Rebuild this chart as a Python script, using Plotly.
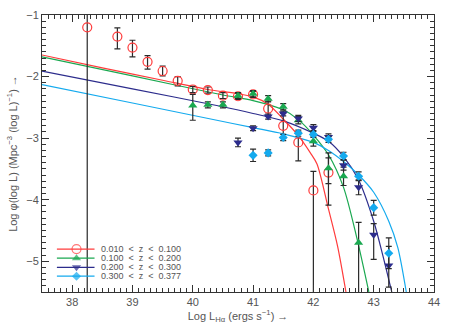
import plotly.graph_objects as go

# ---------------- data ----------------
z1_x = [38.25, 38.75, 39.0, 39.25, 39.5, 39.75, 40.0, 40.25, 40.5, 40.75, 41.0, 41.25, 41.5, 41.75, 42.0, 42.25]
z1_y = [-1.20, -1.35, -1.53, -1.76, -1.91, -2.07, -2.21, -2.22, -2.31, -2.32, -2.29, -2.52, -2.80, -3.07, -3.85, -3.56]
z1_ep = [5.0, 0.14, 0.12, 0.10, 0.08, 0.07, 0.05, 0.05, 0.05, 0.05, 0.05, 0.12, 0.20, 0.17, 0.31, 0.24]
z1_em = [5.0, 0.20, 0.15, 0.12, 0.08, 0.08, 0.05, 0.05, 0.05, 0.05, 0.05, 0.12, 0.20, 0.30, 3.00, 0.53]

z2_x = [40.0, 40.25, 40.5, 40.75, 41.0, 41.25, 41.5, 41.75, 42.0, 42.25, 42.5, 42.75]
z2_y = [-2.47, -2.46, -2.46, -2.31, -2.28, -2.36, -2.49, -2.71, -3.05, -3.49, -3.62, -4.70]
z2_ep = [0.18, 0.05, 0.05, 0.05, 0.05, 0.05, 0.05, 0.06, 0.08, 0.25, 0.15, 0.33]
z2_em = [0.24, 0.05, 0.05, 0.05, 0.05, 0.05, 0.05, 0.06, 0.08, 0.25, 0.15, 3.00]

z3_x = [40.75, 41.0, 41.25, 41.5, 41.75, 42.0, 42.25, 42.5, 42.75, 43.0, 43.25]
z3_y = [-3.07, -2.84, -2.65, -2.60, -2.68, -2.83, -2.98, -3.44, -3.80, -4.57, -5.07]
z3_ep = [0.07, 0.04, 0.04, 0.04, 0.05, 0.05, 0.05, 0.08, 0.12, 0.18, 0.31]
z3_em = [0.07, 0.04, 0.04, 0.04, 0.05, 0.05, 0.05, 0.08, 0.12, 0.40, 0.35]

z4_x = [41.0, 41.25, 41.5, 41.75, 42.0, 42.25, 42.5, 42.75, 43.0, 43.25]
z4_y = [-3.28, -3.24, -2.99, -2.92, -2.94, -3.02, -3.29, -3.62, -4.13, -4.87]
z4_ep = [0.10, 0.05, 0.05, 0.05, 0.05, 0.05, 0.06, 0.07, 0.12, 0.25]
z4_em = [0.10, 0.05, 0.05, 0.05, 0.05, 0.05, 0.06, 0.07, 0.12, 0.25]

# fitted curves
f1_x = [37.5, 38.5, 39.5, 40.25, 40.75, 41.0, 41.25, 41.5, 41.75, 41.95, 42.06, 42.25, 42.4, 42.54]
f1_y = [-1.65, -1.86, -2.06, -2.21, -2.28, -2.33, -2.45, -2.69, -2.96, -3.24, -3.42, -4.15, -4.75, -5.5]
f2_x = [37.5, 39.0, 40.5, 41.0, 41.5, 41.75, 42.0, 42.25, 42.5, 42.72, 42.92]
f2_y = [-1.68, -1.99, -2.30, -2.39, -2.54, -2.70, -2.95, -3.27, -3.80, -4.62, -5.5]
f3_x = [37.5, 39.0, 40.5, 41.0, 41.5, 42.0, 42.25, 42.5, 42.75, 43.0, 43.15, 43.3]
f3_y = [-1.91, -2.20, -2.49, -2.60, -2.72, -2.92, -3.05, -3.30, -3.68, -4.35, -4.90, -5.5]
f4_x = [37.5, 39.0, 40.5, 41.0, 41.5, 42.0, 42.25, 42.5, 42.75, 43.0, 43.25, 43.4, 43.54]
f4_y = [-2.13, -2.43, -2.73, -2.83, -2.93, -3.07, -3.20, -3.38, -3.60, -3.88, -4.35, -4.78, -5.5]

S = "\u00a0\u00a0"
labels = ["0.010" + S + "&lt;" + S + "z" + S + "&lt;" + S + "0.100",
          "0.100" + S + "&lt;" + S + "z" + S + "&lt;" + S + "0.200",
          "0.200" + S + "&lt;" + S + "z" + S + "&lt;" + S + "0.300",
          "0.300" + S + "&lt;" + S + "z" + S + "&lt;" + S + "0.377"]

x_ticks = [38, 39, 40, 41, 42, 43, 44]
y_ticks = [-1, -2, -3, -4, -5]

# ---------------- styles ----------------
colors = ["#ff3b3b", "#1aa850", "#2c2c8c", "#14aaee"]
symbols = ["circle-open", "triangle-up", "triangle-down", "diamond"]
msizes = [9, 8, 8, 7]
EB = "#2a2a2a"
TXT = "#555555"
FONT = "Liberation Sans"

fig = go.Figure()

series = [(z1_x, z1_y, z1_ep, z1_em), (z2_x, z2_y, z2_ep, z2_em),
          (z3_x, z3_y, z3_ep, z3_em), (z4_x, z4_y, z4_ep, z4_em)]
fits = [(f1_x, f1_y), (f2_x, f2_y), (f3_x, f3_y), (f4_x, f4_y)]

for i, (fx, fy) in enumerate(fits):
    fig.add_trace(go.Scatter(x=fx, y=fy, mode="lines", line=dict(color=colors[i], width=1.2, shape="spline", smoothing=0.8),
                             showlegend=False, hoverinfo="skip"))

for i, (sx, sy, ep, em) in enumerate(series):
    mk = dict(symbol=symbols[i], size=msizes[i], color=colors[i])
    if i == 0:
        mk["line"] = dict(color=colors[i], width=1.2)
    else:
        mk["line"] = dict(width=0)
    fig.add_trace(go.Scatter(x=sx, y=sy, mode="markers", marker=mk,
                             error_y=dict(type="data", array=ep, arrayminus=em, color=EB, thickness=1.2, width=3),
                             showlegend=False))

# manual legend on an overlay axis [0,1]
leg_y = [0.155, 0.122, 0.089, 0.057]
for i in range(4):
    fig.add_trace(go.Scatter(x=[0.038, 0.088, 0.134], y=[leg_y[i]] * 3, xaxis="x2", yaxis="y2",
                             mode="lines+markers",
                             line=dict(color=colors[i], width=1.2),
                             marker=dict(symbol=symbols[i], size=[0, msizes[i], 0], color=colors[i],
                                         line=dict(color=colors[i], width=1.2 if i == 0 else 0)),
                             showlegend=False, hoverinfo="skip"))
    fig.add_annotation(x=0.146, y=leg_y[i], xref="x2", yref="y2", text=labels[i], showarrow=False,
                       xanchor="left", yanchor="middle", font=dict(family=FONT, size=9, color=TXT))

axis_common = dict(showline=True, linecolor="#333333", linewidth=1, mirror="allticks",
                   ticks="inside", ticklen=7, tickwidth=1, tickcolor="#333333",
                   showgrid=False, zeroline=False,
                   tickfont=dict(family=FONT, size=11, color=TXT))

fig.update_layout(
    width=449, height=330,
    margin=dict(l=42, r=11, t=9, b=38),
    plot_bgcolor="white", paper_bgcolor="white",
    font=dict(family=FONT, color=TXT),
    xaxis=dict(range=[37.5, 44], tickvals=x_ticks, ticktext=[str(v) for v in x_ticks],
               minor=dict(dtick=0.1, tick0=37.5, ticks="inside", ticklen=4, tickcolor="#333333"),
               title=dict(text="Log L<sub>Hα</sub> (ergs s<sup>−1</sup>) →", font=dict(family=FONT, size=11, color=TXT), standoff=4),
               **axis_common),
    yaxis=dict(range=[-5.5, -1], tickvals=y_ticks, ticktext=["−1", "−2", "−3", "−4", "−5"],
               minor=dict(dtick=0.1, tick0=-1, ticks="inside", ticklen=4, tickcolor="#333333"),
               title=dict(text="Log φ(log L) (Mpc<sup>−3</sup> (log L)<sup>−1</sup>) →", font=dict(family=FONT, size=11, color=TXT), standoff=6),
               **axis_common),
    xaxis2=dict(range=[0, 1], overlaying="x", visible=False, fixedrange=True),
    yaxis2=dict(range=[0, 1], overlaying="y", visible=False, fixedrange=True),
)

fig.write_html("out.html", config={"displayModeBar": False},
               post_script="document.body.style.margin='0px';document.body.style.overflow='hidden';")
